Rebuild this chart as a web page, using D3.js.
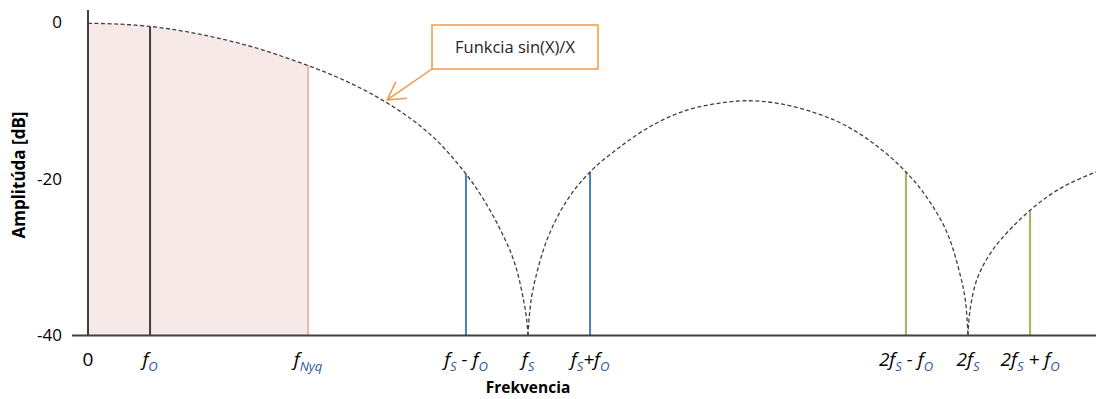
<!DOCTYPE html>
<html>
<head>
<meta charset="utf-8">
<script src="https://cdn.jsdelivr.net/npm/d3@7"></script>
<style>
  html, body { margin: 0; padding: 0; background: #ffffff; }
  svg { display: block; font-family: "Open Sans", "Noto Sans", sans-serif; }
</style>
</head>
<body>
<svg id="chart" width="1096" height="399"></svg>
<script>
// Frequency in units of the sampling rate fS, amplitude in dB.
// sin(X)/X envelope, one array pair per lobe (nulls at fS and 2fS).
const lobe1F  = [0, 0.07, 0.141, 0.2, 0.25, 0.3, 0.35, 0.4, 0.45, 0.5, 0.55, 0.6, 0.65, 0.7, 0.75, 0.8, 0.859, 0.9, 0.94, 0.97, 0.99, 0.997, 1.0];
const lobe1Db = [-0.10, -0.20, -0.50, -0.95, -1.45, -2.05, -2.75, -3.55, -4.50, -5.50, -6.60, -7.85, -9.30, -11.0, -13.0, -15.5, -19.36, -22.7, -26.8, -30.8, -35.5, -38.0, -40];

const lobe2F  = [1.0, 1.003, 1.011, 1.043, 1.089, 1.141, 1.209, 1.284, 1.361, 1.436, 1.5, 1.564, 1.639, 1.716, 1.791, 1.859, 1.907, 1.952, 1.982, 1.994, 2.0];
const lobe2Db = [-40, -37.5, -34.2, -27.8, -22.7, -19.1, -15.9, -13.1, -11.2, -10.3, -10.0, -10.3, -11.3, -13.0, -15.7, -19.1, -22.4, -26.8, -32.2, -35.5, -40];

const lobe3F  = [2.0, 2.004, 2.020, 2.057, 2.141, 2.216, 2.30];
const lobe3Db = [-40, -37.0, -32.9, -29.0, -24.0, -21.0, -18.9];

// Spectral lines: signal fO, Nyquist limit and the images around fS and 2fS
const lineF     = [0.141, 0.5, 0.859, 1.141, 1.859, 2.141];
const lineDb    = [-0.50, -5.50, -19.36, -19.1, -19.1, -24.0];
const lineKind  = ["signal", "nyquist", "image1", "image1", "image2", "image2"];

// Axis ticks
const xTickValues = [0, 0.141, 0.5, 0.859, 1.0, 1.141, 1.859, 2.0, 2.141];
const xTickLabels = ["0", "f_O", "f_{Nyq}", "f_S - f_O", "f_S", "f_S+f_O", "2f_S - f_O", "2f_S", "2f_S + f_O"];
const yTickValues = [0, -20, -40];

const yTitle = "Amplitúda [dB]";
const xTitle = "Frekvencia";
const noteText = "Funkcia sin(X)/X";
const notePointF = 0.68, notePointDb = -9.9;

const colors = {
  axis: "#404040",
  curve: "#404040",
  fill: "#f8e9e9",
  signal: "#404040",
  nyquist: "#e6b9b8",
  image1: "#4a7ebb",
  image2: "#9bbb59",
  note: "#f79646",
  sub: "#2a56a6",
  text: "#262626"
};

const svg = d3.select("#chart");
const x = d3.scaleLinear().domain([0, 2.3]).range([88, 88 + 2.3 * 440]);
const y = d3.scaleLinear().domain([-40, 0]).range([335.5, 22.5]);

const zipPts = (f, v) => f.map((d, i) => [d, v[i]]);
const lobes = [zipPts(lobe1F, lobe1Db), zipPts(lobe2F, lobe2Db), zipPts(lobe3F, lobe3Db)];
const smooth = d3.curveCatmullRom.alpha(0.5);

// Shaded pass band from 0 to the Nyquist frequency
const band = lobes[0].filter(d => d[0] <= 0.5);
svg.append("path")
  .attr("d", d3.area().x(d => x(d[0])).y0(y(-40)).y1(d => y(d[1])).curve(smooth)(band))
  .attr("fill", colors.fill);

// Spectral lines
svg.selectAll("line.spec")
  .data(lineF.map((f, i) => ({ f, db: lineDb[i], kind: lineKind[i] })))
  .join("line")
  .attr("class", "spec")
  .attr("x1", d => x(d.f)).attr("x2", d => x(d.f))
  .attr("y1", y(-40)).attr("y2", d => y(d.db))
  .attr("stroke", d => colors[d.kind])
  .attr("stroke-width", 2);

// Envelope
const lineGen = d3.line().x(d => x(d[0])).y(d => y(d[1])).curve(smooth);
svg.selectAll("path.lobe")
  .data(lobes)
  .join("path")
  .attr("class", "lobe")
  .attr("d", lineGen)
  .attr("fill", "none")
  .attr("stroke", colors.curve)
  .attr("stroke-width", 1.3)
  .attr("stroke-dasharray", "4,2.5");

// Axes lines
svg.append("line")
  .attr("x1", x(0)).attr("x2", x(0))
  .attr("y1", 10).attr("y2", y(-40))
  .attr("stroke", colors.axis).attr("stroke-width", 2);
svg.append("line")
  .attr("x1", 72).attr("x2", 1096)
  .attr("y1", y(-40)).attr("y2", y(-40))
  .attr("stroke", colors.axis).attr("stroke-width", 2);

// Y axis tick labels
const yAxis = svg.append("g")
  .attr("transform", `translate(${x(0)},0)`)
  .call(d3.axisLeft(y).tickValues(yTickValues).tickSize(0).tickPadding(26).tickFormat(d => String(d)));
yAxis.select(".domain").remove();
yAxis.selectAll("text")
  .attr("font-family", "'Open Sans', sans-serif")
  .attr("font-size", 17)
  .attr("fill", "#000");

// X tick labels with subscripts (f_X or f_{XYZ})
function parseLabel(s) {
  const parts = [];
  const re = /_\{([^}]*)\}|_(.)/g;
  let last = 0, m;
  while ((m = re.exec(s)) !== null) {
    if (m.index > last) parts.push({ t: s.slice(last, m.index), sub: false });
    parts.push({ t: m[1] || m[2], sub: true });
    last = re.lastIndex;
  }
  if (last < s.length) parts.push({ t: s.slice(last), sub: false });
  return parts;
}

const xLabels = svg.append("g");
xTickValues.forEach((v, i) => {
  const lbl = xTickLabels[i];
  const t = xLabels.append("text")
    .attr("x", x(v))
    .attr("y", 366)
    .attr("text-anchor", "middle")
    .attr("font-size", 19)
    .attr("font-style", lbl === "0" ? "normal" : "italic")
    .attr("fill", "#000");
  let shifted = false;
  parseLabel(lbl).forEach(p => {
    const ts = t.append("tspan").text(p.t);
    if (p.sub) {
      ts.attr("font-size", 13).attr("fill", colors.sub).attr("dy", shifted ? 0 : 5);
      shifted = true;
    } else {
      ts.attr("dy", shifted ? -5 : 0);
      shifted = false;
    }
  });
});

// Axis titles
svg.append("text")
  .attr("x", x(1.0)).attr("y", 393)
  .attr("text-anchor", "middle")
  .attr("font-size", 15.5).attr("font-weight", "bold")
  .attr("fill", "#000")
  .text(xTitle);

svg.append("text")
  .attr("transform", "translate(25,175) rotate(-90)")
  .attr("text-anchor", "middle")
  .attr("font-size", 17).attr("font-weight", "bold")
  .attr("fill", "#000")
  .text(yTitle);

// Callout box with arrow pointing at the envelope
const box = { x0: 432, y0: 25, x1: 598, y1: 69 };
const tip = [x(notePointF), y(notePointDb)];
const tail = [box.x0, box.y1];
svg.append("line")
  .attr("x1", tail[0]).attr("y1", tail[1])
  .attr("x2", tip[0]).attr("y2", tip[1])
  .attr("stroke", colors.note).attr("stroke-width", 1.5);
const ang = Math.atan2(tail[1] - tip[1], tail[0] - tip[0]);
const armLen = 20, spread = Math.PI / 6;
const arm = a => [tip[0] + armLen * Math.cos(a), tip[1] + armLen * Math.sin(a)];
const a1 = arm(ang - spread), a2 = arm(ang + spread);
svg.append("path")
  .attr("d", `M${a1[0]},${a1[1]}L${tip[0]},${tip[1]}L${a2[0]},${a2[1]}`)
  .attr("fill", "none")
  .attr("stroke", colors.note).attr("stroke-width", 1.5);

svg.append("rect")
  .attr("x", box.x0).attr("y", box.y0)
  .attr("width", box.x1 - box.x0).attr("height", box.y1 - box.y0)
  .attr("fill", "#fff")
  .attr("stroke", colors.note).attr("stroke-width", 1.5);
svg.append("text")
  .attr("x", (box.x0 + box.x1) / 2).attr("y", 53)
  .attr("text-anchor", "middle")
  .attr("font-size", 16.5)
  .attr("fill", colors.text)
  .text(noteText);
</script>
</body>
</html>
